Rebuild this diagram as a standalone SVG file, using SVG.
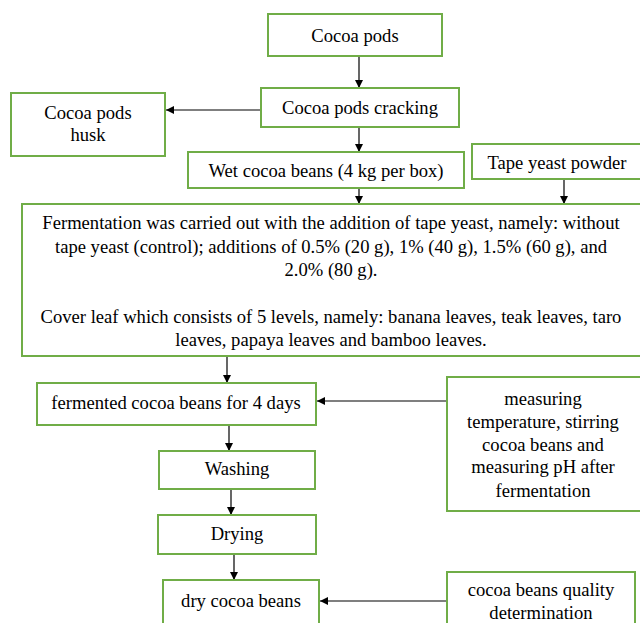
<svg xmlns="http://www.w3.org/2000/svg" width="640" height="623" viewBox="0 0 640 623">
<defs>
<style>
.box{fill:#fff;stroke:#70AD47;stroke-width:2}
text{font-family:"Liberation Serif","Times New Roman",serif;font-size:18.6px;fill:#000;text-anchor:middle;dominant-baseline:central}
.c{stroke:#000;stroke-width:1.2;fill:none;marker-end:url(#ah)}
</style>
<marker id="ah" viewBox="0 0 10 10" refX="10" refY="5" markerWidth="8" markerHeight="8" markerUnits="userSpaceOnUse" orient="auto"><path d="M0,0 L10,5 L0,10 z" fill="#000"/></marker>
</defs>
<rect width="640" height="623" fill="#fff"/>
<g id="connectors">
<line class="c" x1="359" y1="56" x2="359" y2="88"/>
<line class="c" x1="261" y1="110" x2="166" y2="110"/>
<line class="c" x1="359" y1="127" x2="359" y2="152"/>
<line class="c" x1="359" y1="188" x2="359" y2="204"/>
<line class="c" x1="564" y1="179" x2="564" y2="204"/>
<line class="c" x1="227" y1="356" x2="227" y2="383"/>
<line class="c" x1="447" y1="401" x2="317" y2="401"/>
<line class="c" x1="229" y1="425" x2="229" y2="451"/>
<line class="c" x1="231" y1="489" x2="231" y2="515"/>
<line class="c" x1="234" y1="554" x2="234" y2="580"/>
<line class="c" x1="447" y1="601" x2="320" y2="601"/>
</g>
<g id="cocoa-pods"><rect class="box" x="268" y="14" width="174" height="42"/><text x="355" y="35">Cocoa pods</text></g>
<g id="cracking"><rect class="box" x="261" y="88" width="198" height="39"/><text x="360" y="107">Cocoa pods cracking</text></g>
<g id="husk"><rect class="box" x="11" y="93" width="154" height="63"/><text x="88" y="112">Cocoa pods</text><text x="88" y="134">husk</text></g>
<g id="wet-beans"><rect class="box" x="188" y="152" width="276" height="36"/><text x="326" y="170">Wet cocoa beans (4 kg per box)</text></g>
<g id="tape-yeast"><rect class="box" x="472" y="144" width="170" height="35"/><text x="557" y="162">Tape yeast powder</text></g>
<g id="fermentation"><rect class="box" x="22" y="204" width="620" height="152"/>
<text x="331" y="222">Fermentation was carried out with the addition of tape yeast, namely: without</text>
<text x="331" y="246">tape yeast (control); additions of 0.5% (20 g), 1% (40 g), 1.5% (60 g), and</text>
<text x="331" y="269">2.0% (80 g).</text>
<text x="331" y="316">Cover leaf which consists of 5 levels, namely: banana leaves, teak leaves, taro</text>
<text x="331" y="339">leaves, papaya leaves and bamboo leaves.</text>
</g>
<g id="fermented"><rect class="box" x="37" y="383" width="279" height="42"/><text x="176" y="402">fermented cocoa beans for 4 days</text></g>
<g id="measuring"><rect class="box" x="447" y="377" width="195" height="134"/>
<text x="543" y="398">measuring</text>
<text x="543" y="421">temperature, stirring</text>
<text x="543" y="444">cocoa beans and</text>
<text x="543" y="466">measuring pH after</text>
<text x="543" y="490">fermentation</text>
</g>
<g id="washing"><rect class="box" x="159" y="451" width="156" height="38"/><text x="237" y="468">Washing</text></g>
<g id="drying"><rect class="box" x="158" y="515" width="158" height="39"/><text x="237" y="533">Drying</text></g>
<g id="dry-beans"><rect class="box" x="163" y="580" width="156" height="50"/><text x="241" y="600">dry cocoa beans</text></g>
<g id="quality"><rect class="box" x="447" y="572" width="188" height="60"/><text x="541" y="589">cocoa beans quality</text><text x="541" y="612">determination</text></g>
</svg>
